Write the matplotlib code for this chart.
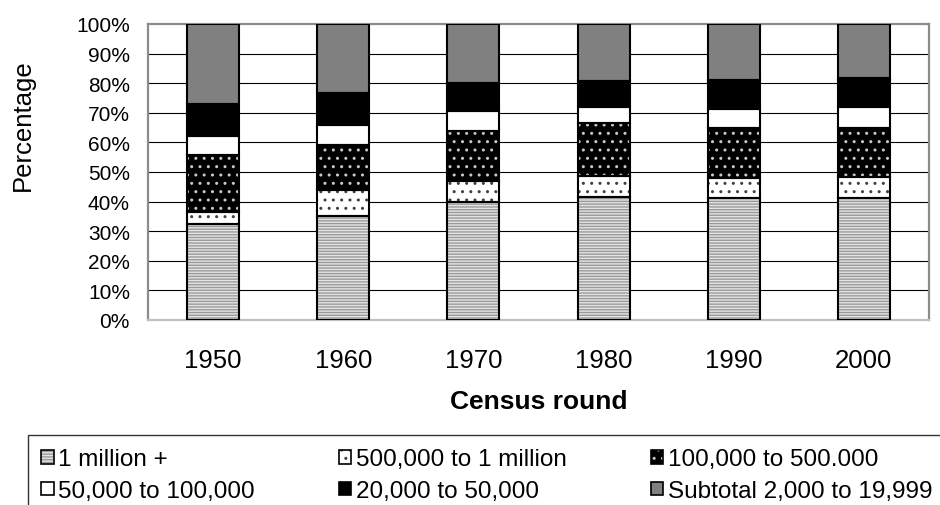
import numpy as np
import matplotlib
matplotlib.use("Agg")
import matplotlib.pyplot as plt
from matplotlib.patches import Patch

plt.rcParams['font.family'] = ['Liberation Sans', 'DejaVu Sans']
plt.rcParams['hatch.linewidth'] = 1.0

# census rounds and share of population (%) by settlement size class
years = ['1950', '1960', '1970', '1980', '1990', '2000']
labels = ['1 million +', '500,000 to 1 million', '100,000 to 500.000',
          '50,000 to 100,000', '20,000 to 50,000', 'Subtotal 2,000 to 19,999']
million_plus = [32.4, 35.0, 40.0, 41.4, 41.2, 41.1]
half_to_million = [4.0, 8.9, 7.1, 7.4, 6.7, 7.1]
k100_to_500 = [19.3, 15.3, 16.9, 17.8, 16.9, 16.6]
k50_to_100 = [6.6, 6.7, 6.5, 5.3, 6.5, 7.1]
k20_to_50 = [10.7, 10.7, 9.5, 9.0, 9.8, 9.8]
subtotal_small = [27.0, 23.4, 20.0, 19.1, 18.9, 18.3]

series = [million_plus, half_to_million, k100_to_500, k50_to_100, k20_to_50, subtotal_small]
# (face, hatch, hatch colour)
styles = [('#e4e4e4', '------', '#9a9a9a'),
          ('white', '..', '#404040'),
          ('black', '..', '#c8c8c8'),
          ('white', None, 'white'),
          ('black', None, 'black'),
          ('#808080', None, '#808080')]

fig = plt.figure(figsize=(9.4, 5.06), dpi=100)
ax = fig.add_axes([148/940, 1-321/506, (929-148)/940, (321-25)/506])

x = np.arange(len(years))
bottom = np.zeros(len(years))
handles = []
for vals, (fc, h, hc) in zip(series, styles):
    vals = np.array(vals)
    ax.bar(x, vals, 0.4, bottom=bottom, color=fc, hatch=h, edgecolor=hc, linewidth=0, zorder=2)
    ax.bar(x, vals, 0.4, bottom=bottom, fill=False, edgecolor='black', linewidth=1.5, zorder=3)
    bottom += vals
    handles.append((Patch(facecolor=fc, hatch=h, edgecolor=hc, linewidth=0),
                    Patch(fill=False, edgecolor='black', linewidth=1.2)))

ax.set_xlim(-0.5, len(years) - 0.5)
ax.set_ylim(0, 100)
ax.set_yticks(np.arange(0, 101, 10))
ax.set_yticklabels([f'{v}%' for v in range(0, 101, 10)], fontsize=15)
ax.set_xticks(x)
ax.set_xticklabels(years, fontsize=18.5)
ax.tick_params(axis='both', length=0)
ax.tick_params(axis='y', pad=13)
ax.tick_params(axis='x', pad=20)
for yv in range(10, 100, 10):
    ax.axhline(yv, color='black', linewidth=0.8, zorder=1)
for s in ax.spines.values():
    s.set_color('#8c8c8c')
    s.set_linewidth(1.6)
ax.spines['bottom'].set_color('#c0c0c0')

fig.text(539/940, 1-402/506, 'Census round', fontsize=19, fontweight='bold', ha='center', va='center')
fig.text(23/940, 1-125/506, 'Percentage', fontsize=18.5, rotation=90, ha='center', va='center')

# legend is filled column by column, reference reads row by row
order = [0, 3, 1, 4, 2, 5]
leg = fig.legend([handles[i] for i in order], [labels[i] for i in order],
                 loc='upper left', bbox_to_anchor=(28/940, 1-436/506), ncol=3,
                 fontsize=17.5, frameon=True, fancybox=False, edgecolor='black',
                 handlelength=0.5, handleheight=0.5, handletextpad=0.2,
                 columnspacing=3.45, borderpad=0.55, labelspacing=0.4,
                 borderaxespad=0)
leg.get_frame().set_linewidth(1.0)

fig.savefig('out.png', dpi=100)
